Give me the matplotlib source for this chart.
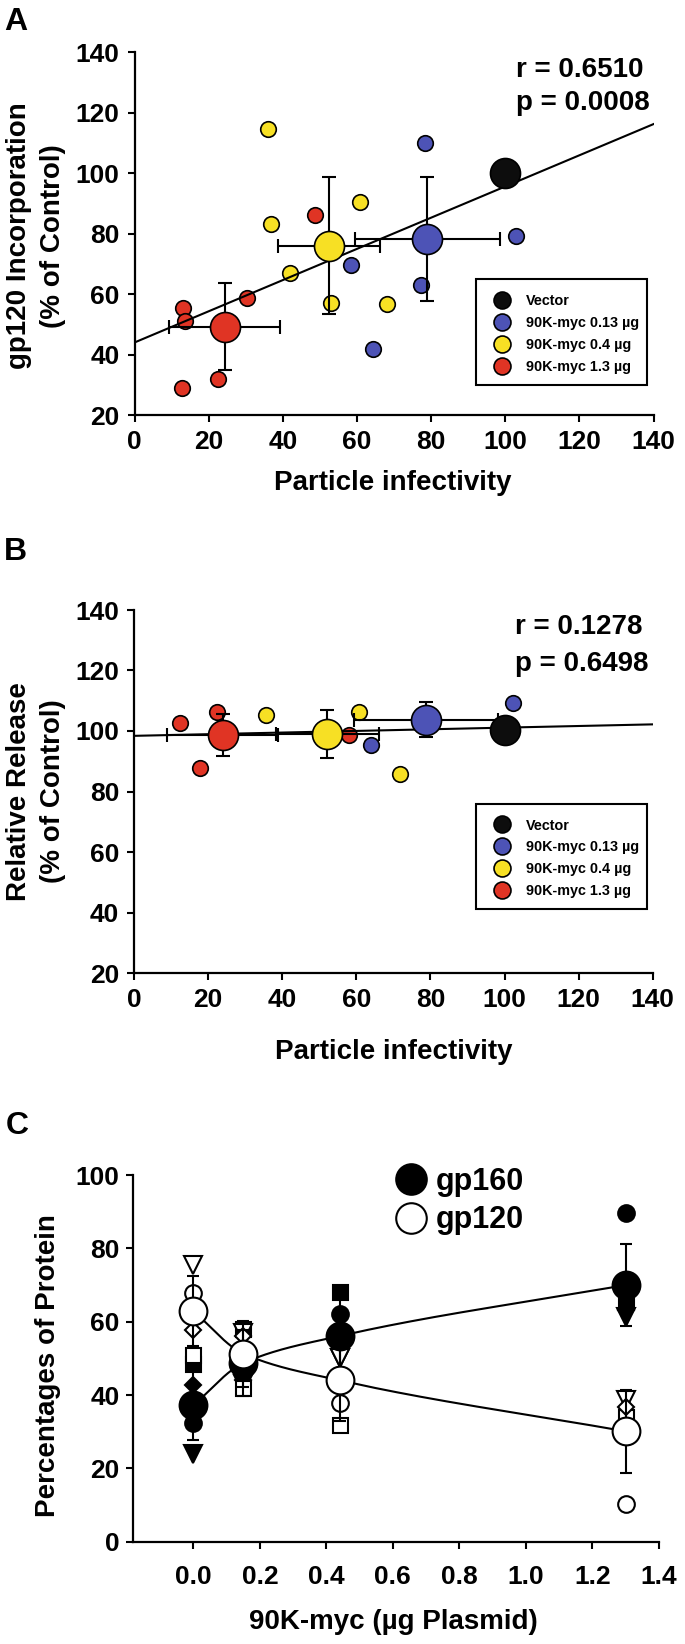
import numpy as np
import matplotlib
matplotlib.use("Agg")
import matplotlib.pyplot as plt
from matplotlib.lines import Line2D
from matplotlib.patches import Rectangle

plt.rcParams['font.family'] = ['Liberation Sans', 'DejaVu Sans']
plt.rcParams['font.weight'] = 'bold'

# ---------------- data ----------------
group_labels = ['Vector', '90K-myc 0.13 µg', '90K-myc 0.4 µg', '90K-myc 1.3 µg']
group_colors = ['#0d0d0d', '#4d53b6', '#f7e024', '#e03424']

# Panel A
a_vector_x = [100.0]
a_vector_y = [100.0]
a_mean_x = [79.0, 52.5, 24.3]          # 0.13, 0.4, 1.3 ug
a_mean_xerr = [19.5, 13.8, 15.0]
a_mean_y = [78.2, 76.1, 49.3]
a_mean_yerr = [20.4, 22.6, 14.4]
a_blue_x = [78.4, 102.9, 58.4, 77.3, 64.3]
a_blue_y = [110.1, 79.3, 69.7, 63.1, 42.1]
a_yellow_x = [35.9, 36.7, 41.9, 60.8, 53.1, 68.1]
a_yellow_y = [114.5, 83.2, 66.9, 90.4, 57.0, 56.8]
a_red_x = [48.6, 30.3, 13.1, 13.7, 22.5, 12.7]
a_red_y = [86.2, 58.7, 55.4, 51.3, 32.1, 29.1]
a_fit_intercept = 44.1
a_fit_slope = 0.515
a_stats = ['r = 0.6510', 'p = 0.0008']

# Panel B
b_vector_x = [100.0]
b_vector_y = [100.2]
b_mean_x = [78.8, 52.2, 23.9]
b_mean_xerr = [19.5, 13.8, 15.0]
b_mean_y = [103.8, 99.0, 98.7]
b_mean_yerr = [5.9, 8.0, 7.0]
b_blue_x = [64.0, 102.4]
b_blue_y = [95.4, 109.4]
b_yellow_x = [35.6, 60.8, 71.8]
b_yellow_y = [105.3, 106.4, 85.7]
b_red_x = [12.3, 22.3, 17.8, 58.1]
b_red_y = [102.5, 106.4, 87.9, 98.7]
b_fit_intercept = 98.4
b_fit_slope = 0.0271
b_stats = ['r = 0.1278', 'p = 0.6498']

# Panel C
c_dose = [0.0, 0.15, 0.44, 1.3]
c_gp160_circle = [32.5, 50.0, 62.2, 89.6]
c_gp160_square = [48.5, 58.0, 68.2, 66.0]
c_gp160_tri = [24.0, 43.0, 50.0, 61.4]
c_gp160_diamond = [42.8, 44.0, 44.0, 63.2]
c_gp120_circle = [67.8, 50.0, 37.8, 10.4]
c_gp120_square = [50.9, 42.0, 31.8, 34.0]
c_gp120_tri = [75.5, 57.0, 50.0, 38.6]
c_gp120_diamond = [57.8, 56.0, 56.0, 36.8]
c_gp160_mean = [37.2, 48.7, 56.1, 70.0]
c_gp120_mean = [62.9, 51.3, 44.0, 30.1]
c_err = [9.5, 9.0, 11.0, 11.3]
c_labels = ['gp160', 'gp120']

# ---------------- figure ----------------
W, H = 685, 1644
fig = plt.figure(figsize=(W / 100, H / 100), dpi=100)


def fx(px):
    return px / W


def fy(py):
    return 1 - py / H


axA = fig.add_axes([fx(134.5), fy(415.5), 519 / W, 363.5 / H])
axB = fig.add_axes([fx(134), fy(973), 518.7 / W, 363 / H])
axC = fig.add_axes([fx(133.2), fy(1541.7), 525.6 / W, 366.7 / H])

for ax in (axA, axB, axC):
    for s in ('top', 'right'):
        ax.spines[s].set_visible(False)
    for s in ('left', 'bottom'):
        ax.spines[s].set_linewidth(1.6)
    ax.tick_params(direction='out', length=4.7, width=1.5, labelsize=19, pad=6)

SMALL = 11.2
BIG = 21.6
MEW = 1.2


def scatter_panel(ax, vx, vy, mx, mxe, my, mye, groups, fit_b, fit_m, stats, sx, sy):
    # small replicate points
    for (xs, ys), col in zip(groups, group_colors[1:]):
        ax.plot(xs, ys, ls='none', marker='o', ms=SMALL, mfc=col, mec='black',
                mew=MEW, zorder=3, clip_on=False)
    # error bars of group means
    ax.errorbar(mx, my, xerr=mxe, yerr=mye, fmt='none', ecolor='black',
                elinewidth=1.5, capsize=4.7, capthick=1.5, zorder=4)
    # regression line
    xl = np.array(ax.get_xlim())
    ax.plot(xl, fit_b + fit_m * xl, color='black', lw=1.5, zorder=5)
    # means
    for x, y, col in zip(mx, my, group_colors[1:]):
        ax.plot([x], [y], ls='none', marker='o', ms=BIG, mfc=col, mec='black',
                mew=MEW, zorder=6)
    ax.plot(vx, vy, ls='none', marker='o', ms=BIG, mfc=group_colors[0],
            mec='black', mew=MEW, zorder=6)
    ax.text(sx, sy[0], stats[0], transform=ax.transAxes, ha='left',
            va='center', fontsize=20, fontweight='bold')
    ax.text(sx, sy[1], stats[1], transform=ax.transAxes, ha='left',
            va='center', fontsize=20, fontweight='bold')


for ax in (axA, axB):
    ax.set_xlim(0, 140)
    ax.set_ylim(20, 140)
    ax.set_xticks(np.arange(0, 141, 20))
    ax.set_yticks(np.arange(20, 141, 20))

scatter_panel(axA, a_vector_x, a_vector_y, a_mean_x, a_mean_xerr, a_mean_y,
              a_mean_yerr,
              [(a_blue_x, a_blue_y), (a_yellow_x, a_yellow_y), (a_red_x, a_red_y)],
              a_fit_intercept, a_fit_slope, a_stats, 0.735, (0.950, 0.859))
scatter_panel(axB, b_vector_x, b_vector_y, b_mean_x, b_mean_xerr, b_mean_y,
              b_mean_yerr,
              [(b_blue_x, b_blue_y), (b_yellow_x, b_yellow_y), (b_red_x, b_red_y)],
              b_fit_intercept, b_fit_slope, b_stats, 0.735, (0.954, 0.851))


def group_legend(ax, box_top, box_bottom):
    # frame
    fig.patches.append(Rectangle((fx(476), fy(box_bottom)), (646.6 - 476) / W,
                                 (box_bottom - box_top) / H,
                                 transform=fig.transFigure, fill=True,
                                 facecolor='white', edgecolor='black', lw=1.5,
                                 zorder=9))
    handles = [Line2D([], [], ls='none', marker='o', ms=12.2, mfc=c, mec='black',
                      mew=MEW) for c in group_colors]
    leg = ax.legend(handles, group_labels, loc='upper left',
                    bbox_to_anchor=(fx(491.4), fy(box_top + 14.5)),
                    bbox_transform=fig.transFigure, frameon=False,
                    borderaxespad=0, borderpad=0, labelspacing=0.55,
                    handlelength=1.5, handletextpad=0.89,
                    prop={'size': 10.4, 'weight': 'bold'})
    leg.set_zorder(10)
    return leg


legA = group_legend(axA, 279.3, 385)
legB = group_legend(axB, 804, 909.3)
# draw legends at figure level above the frame patches
for ax, leg in ((axA, legA), (axB, legB)):
    leg.remove()
    fig.legends.append(leg)
    leg.set_figure(fig)

# ---------------- panel C ----------------
axC.set_xlim(-0.181, 1.4)
axC.set_ylim(0, 100)
axC.set_xticks(np.arange(0, 1.41, 0.2))
axC.set_xticklabels(['%.1f' % v for v in np.arange(0, 1.41, 0.2)])
axC.set_yticks(np.arange(0, 101, 20))
axC.tick_params(axis='x', pad=12)
axC.tick_params(axis='y', pad=5)


def pchip(x, y, xn):
    x = np.asarray(x, float)
    y = np.asarray(y, float)
    h = np.diff(x)
    d = np.diff(y) / h
    n = len(x)
    m = np.zeros(n)
    m[0] = d[0]
    m[-1] = d[-1]
    for k in range(1, n - 1):
        if d[k - 1] * d[k] <= 0:
            m[k] = 0
        else:
            w1 = 2 * h[k] + h[k - 1]
            w2 = h[k] + 2 * h[k - 1]
            m[k] = (w1 + w2) / (w1 / d[k - 1] + w2 / d[k])
    out = np.empty_like(xn)
    for i, xv in enumerate(xn):
        k = min(np.searchsorted(x, xv, side='right') - 1, n - 2)
        k = max(k, 0)
        t = (xv - x[k]) / h[k]
        h00 = 2 * t ** 3 - 3 * t ** 2 + 1
        h10 = t ** 3 - 2 * t ** 2 + t
        h01 = -2 * t ** 3 + 3 * t ** 2
        h11 = t ** 3 - t ** 2
        out[i] = h00 * y[k] + h10 * h[k] * m[k] + h01 * y[k + 1] + h11 * h[k] * m[k + 1]
    return out


rep_markers = [('o', 12), ('s', 10.8), ('v', 12.5), ('D', 8.5)]
gp160_reps = [c_gp160_circle, c_gp160_square, c_gp160_tri, c_gp160_diamond]
gp120_reps = [c_gp120_circle, c_gp120_square, c_gp120_tri, c_gp120_diamond]

for vals, (mk, ms) in zip(gp160_reps, rep_markers):
    axC.plot(c_dose, vals, ls='none', marker=mk, ms=ms, mfc='black', mec='black',
             mew=1.5, zorder=3, clip_on=False)
for vals, (mk, ms) in zip(gp120_reps, rep_markers):
    axC.plot(c_dose, vals, ls='none', marker=mk, ms=ms, mfc='white', mec='black',
             mew=1.5, zorder=3.5, clip_on=False)

axC.errorbar(c_dose, c_gp160_mean, yerr=c_err, fmt='none', ecolor='black',
             elinewidth=1.5, capsize=4.5, capthick=1.5, zorder=4)
axC.errorbar(c_dose, c_gp120_mean, yerr=c_err, fmt='none', ecolor='black',
             elinewidth=1.5, capsize=4.5, capthick=1.5, zorder=4)

xs = np.linspace(c_dose[0], c_dose[-1], 300)
axC.plot(xs, pchip(c_dose, c_gp160_mean, xs), color='black', lw=1.5, zorder=4.5)
axC.plot(xs, pchip(c_dose, c_gp120_mean, xs), color='black', lw=1.5, zorder=4.5)

axC.plot(c_dose, c_gp160_mean, ls='none', marker='o', ms=20, mfc='black',
         mec='black', mew=1.5, zorder=5)
axC.plot(c_dose, c_gp120_mean, ls='none', marker='o', ms=20, mfc='white',
         mec='black', mew=1.5, zorder=6)

hC = [Line2D([], [], ls='none', marker='o', ms=22, mfc='black', mec='black', mew=1.5),
      Line2D([], [], ls='none', marker='o', ms=22, mfc='white', mec='black', mew=1.5)]
legC = axC.legend(hC, c_labels, loc='upper left', bbox_to_anchor=(fx(396.2), fy(1167)),
                  bbox_transform=fig.transFigure, frameon=False, borderaxespad=0,
                  borderpad=0, labelspacing=0.27, handlelength=1.0,
                  handletextpad=0.29, prop={'size': 22, 'weight': 'bold'})

# ---------------- labels ----------------
fig.text(fx(4), fy(30), 'A', fontsize=23, fontweight='bold', ha='left', va='baseline')
fig.text(fx(4), fy(560), 'B', fontsize=23, fontweight='bold', ha='left', va='baseline')
fig.text(fx(6), fy(1134), 'C', fontsize=23, fontweight='bold', ha='left', va='baseline')

fig.text(fx(36), fy(236), 'gp120 Incorporation\n(% of Control)', rotation=90,
         ha='center', va='center', multialignment='center', fontsize=20,
         fontweight='bold', linespacing=1.37)
fig.text(fx(36), fy(791.5), 'Relative Release\n(% of Control)', rotation=90,
         ha='center', va='center', multialignment='center', fontsize=20,
         fontweight='bold', linespacing=1.37)
fig.text(fx(48), fy(1366), 'Percentages of Protein', rotation=90,
         ha='center', va='center', fontsize=20, fontweight='bold')

fig.text(fx(393), fy(482.7), 'Particle infectivity', ha='center', va='center',
         fontsize=20, fontweight='bold')
fig.text(fx(394), fy(1051.7), 'Particle infectivity', ha='center', va='center',
         fontsize=20, fontweight='bold')
fig.text(fx(393), fy(1621.7), '90K-myc (µg Plasmid)', ha='center', va='center',
         fontsize=20, fontweight='bold')

fig.savefig('out.png', dpi=100)
